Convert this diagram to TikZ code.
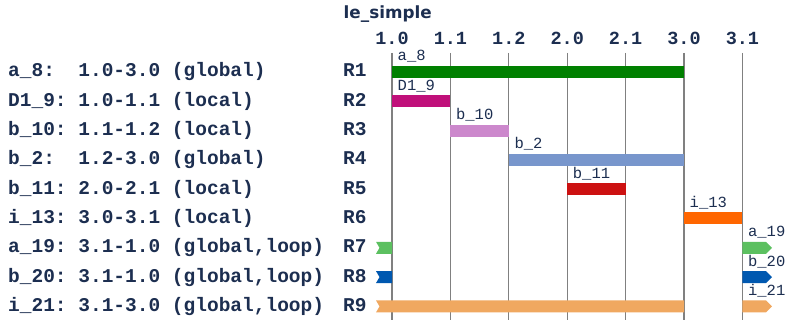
\documentclass[tikz,border=0pt]{standalone}
\usepackage{fontspec}
\setmonofont{Liberation Mono}
\setsansfont{DejaVu Sans}
\definecolor{navy}{HTML}{1C2E50}
\definecolor{gridgray}{HTML}{808080}
\definecolor{liveA}{HTML}{008000}
\definecolor{liveB}{HTML}{C0107A}
\definecolor{liveC}{HTML}{CC88CC}
\definecolor{liveD}{HTML}{7896CC}
\definecolor{liveE}{HTML}{CC1111}
\definecolor{liveF}{HTML}{FF6600}
\definecolor{liveG}{HTML}{5CC060}
\definecolor{liveH}{HTML}{0058B0}
\definecolor{liveI}{HTML}{F0A860}
\tikzset{
  rowtext/.style={anchor=base west,inner sep=0pt,text=navy,font=\fontsize{19.5}{19.5}\selectfont\ttfamily\bfseries},
  ticktext/.style={anchor=base,inner sep=0pt,text=navy,font=\fontsize{18.5}{18.5}\selectfont\ttfamily\bfseries},
  barlabel/.style={anchor=base west,inner sep=0pt,text=navy,font=\fontsize{15.5}{15.5}\selectfont\ttfamily},
  gridline/.style={gridgray,line width=1.3pt}
}
\begin{document}
\begin{tikzpicture}[x=1pt,y=-1pt]
          \useasboundingbox (0,0) rectangle (788,323);
          \node[anchor=base west,inner sep=0pt,text=navy,font=\fontsize{16.8}{16.8}\selectfont\sffamily\bfseries] (title) at (343.5,18.5) {le\_simple};
          % time axis
          \node[ticktext] (t10) at (392,45) {1.0};
          \node[ticktext] (t11) at (450.4,45) {1.1};
          \node[ticktext] (t12) at (508.8,45) {1.2};
          \node[ticktext] (t20) at (567.2,45) {2.0};
          \node[ticktext] (t21) at (625.6,45) {2.1};
          \node[ticktext] (t30) at (684,45) {3.0};
          \node[ticktext] (t31) at (742.4,45) {3.1};
          \draw[gridline] (392,53) -- (392,320);
          \draw[gridline] (450.4,53) -- (450.4,320);
          \draw[gridline] (508.8,53) -- (508.8,320);
          \draw[gridline] (567.2,53) -- (567.2,320);
          \draw[gridline] (625.6,53) -- (625.6,320);
          \draw[gridline] (684,53) -- (684,320);
          \draw[gridline] (742.4,53) -- (742.4,320);
          % intervals
          \node[rowtext] (lbl1) at (8,77) {a\_8:\ \ 1.0-3.0 (global)};
          \node[rowtext] (lbl2) at (8,106.3) {D1\_9: 1.0-1.1 (local)};
          \node[rowtext] (lbl3) at (8,135.6) {b\_10: 1.1-1.2 (local)};
          \node[rowtext] (lbl4) at (8,164.9) {b\_2:\ \ 1.2-3.0 (global)};
          \node[rowtext] (lbl5) at (8,194.2) {b\_11: 2.0-2.1 (local)};
          \node[rowtext] (lbl6) at (8,223.5) {i\_13: 3.0-3.1 (local)};
          \node[rowtext] (lbl7) at (8,252.8) {a\_19: 3.1-1.0 (global,loop)};
          \node[rowtext] (lbl8) at (8,282.1) {b\_20: 3.1-1.0 (global,loop)};
          \node[rowtext] (lbl9) at (8,311.4) {i\_21: 3.1-3.0 (global,loop)};
          \node[rowtext] (reg1) at (343,77) {R1};
          \node[rowtext] (reg2) at (343,106.3) {R2};
          \node[rowtext] (reg3) at (343,135.6) {R3};
          \node[rowtext] (reg4) at (343,164.9) {R4};
          \node[rowtext] (reg5) at (343,194.2) {R5};
          \node[rowtext] (reg6) at (343,223.5) {R6};
          \node[rowtext] (reg7) at (343,252.8) {R7};
          \node[rowtext] (reg8) at (343,282.1) {R8};
          \node[rowtext] (reg9) at (343,311.4) {R9};
          % bars
          \fill[liveA] (392,66) rectangle (684,78);
          \node[barlabel] (a8) at (397.5,61) {a\_8};
          \fill[liveB] (392,95.3) rectangle (450.4,107.3);
          \node[barlabel] (d19) at (397.5,90.3) {D1\_9};
          \fill[liveC] (450.4,124.6) rectangle (508.8,136.6);
          \node[barlabel] (b10) at (455.9,119.6) {b\_10};
          \fill[liveD] (508.8,153.9) rectangle (684,165.9);
          \node[barlabel] (b2) at (514.3,148.9) {b\_2};
          \fill[liveE] (567.2,183.2) rectangle (625.6,195.2);
          \node[barlabel] (b11) at (572.7,178.2) {b\_11};
          \fill[liveF] (684,212.5) rectangle (742.4,224.5);
          \node[barlabel] (i13) at (689.5,207.5) {i\_13};
          % loops
          \fill[liveG] (376,241.8) -- (392,241.8) -- (392,253.8) -- (376,253.8) -- (379.5,247.8) -- cycle;
          \fill[liveG] (742.4,241.8) -- (766,241.8) -- (772,247.8) -- (766,253.8) -- (742.4,253.8) -- cycle;
          \node[barlabel] (a19) at (747.9,236.8) {a\_19};
          \fill[liveH] (376,271.1) -- (392,271.1) -- (392,283.1) -- (376,283.1) -- (379.5,277.1) -- cycle;
          \fill[liveH] (742.4,271.1) -- (766,271.1) -- (772,277.1) -- (766,283.1) -- (742.4,283.1) -- cycle;
          \node[barlabel] (b20) at (747.9,266.1) {b\_20};
          \fill[liveI] (376,300.4) -- (684,300.4) -- (684,312.4) -- (376,312.4) -- (379.5,306.4) -- cycle;
          \fill[liveI] (742.4,300.4) -- (766,300.4) -- (772,306.4) -- (766,312.4) -- (742.4,312.4) -- cycle;
          \node[barlabel] (i21) at (747.9,295.4) {i\_21};
        \end{tikzpicture}
\end{document}
